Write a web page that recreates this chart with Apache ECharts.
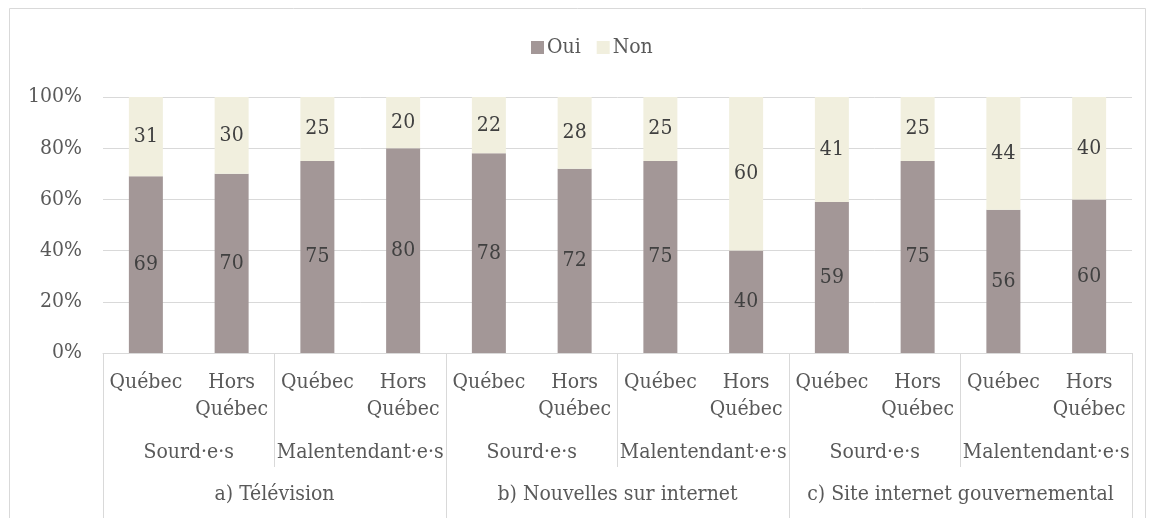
<!DOCTYPE html>
<html>
<head>
<meta charset="utf-8">
<script src="https://cdn.jsdelivr.net/npm/echarts@6/dist/echarts.min.js"></script>
<style>
  html, body { margin: 0; padding: 0; background: #ffffff; }
  #chart { width: 1154px; height: 518px; }
</style>
</head>
<body>
<div id="chart"></div>
<script>
// Region of residence, one bar each
const regions = ['Québec', 'Hors Québec', 'Québec', 'Hors Québec', 'Québec', 'Hors Québec',
                 'Québec', 'Hors Québec', 'Québec', 'Hors Québec', 'Québec', 'Hors Québec'];
// Hearing status groups (two bars each)
const groups = ['Sourd·e·s', 'Malentendant·e·s', 'Sourd·e·s', 'Malentendant·e·s', 'Sourd·e·s', 'Malentendant·e·s'];
// Information source (four bars each)
const sources = ['a) Télévision', 'b) Nouvelles sur internet', 'c) Site internet gouvernemental'];
// Shares in percent
const oui = [69, 70, 75, 80, 78, 72, 75, 40, 59, 75, 56, 60];
const non = [31, 30, 25, 20, 22, 28, 25, 60, 41, 25, 44, 40];
const yTicks = { min: 0, max: 100, interval: 20 };

const FONT = '"DejaVu Serif Condensed", "DejaVu Serif", serif';
const FS = 21;
const LINE = '#d9d9d9';
const TXT = '#595959';

const chart = echarts.init(document.getElementById('chart'), null, { renderer: 'canvas' });

const tableAxis = (data, margin, tickLen) => ({
  type: 'category',
  data: data,
  position: 'bottom',
  gridIndex: 0,
  axisLine: { show: false },
  axisTick: { show: true, length: tickLen, interval: 0, lineStyle: { color: LINE, width: 1 } },
  axisLabel: {
    interval: 0, margin: margin, color: TXT,
    fontFamily: FONT, fontSize: FS, lineHeight: 27
  },
  splitLine: { show: false }
});

chart.setOption({
  animation: false,
  backgroundColor: '#ffffff',
  color: ['#a39797', '#f1efde'],
  textStyle: { fontFamily: FONT },
  graphic: [{
    type: 'rect',
    shape: { x: 9.5, y: 8.5, width: 1136, height: 600 },
    style: { fill: 'none', stroke: LINE, lineWidth: 1 },
    silent: true, z: -1
  }],
  legend: {
    data: ['Oui', 'Non'],
    top: 32,
    left: 526,
    icon: 'rect',
    itemWidth: 13,
    itemHeight: 13,
    itemGap: 16,
    textStyle: { fontFamily: FONT, fontSize: FS, color: TXT, padding: [0, 0, 0, -2] }
  },
  grid: { left: 103, right: 22, top: 97, bottom: 165, containLabel: false },
  xAxis: [
    {
      type: 'category',
      data: regions,
      position: 'bottom',
      axisLine: { show: true, lineStyle: { color: LINE, width: 1 } },
      axisTick: { show: false },
      axisLabel: {
        interval: 0, margin: 16, color: TXT,
        fontFamily: FONT, fontSize: FS, lineHeight: 27,
        formatter: v => v.replace(' ', '\n')
      }
    },
    tableAxis(groups, 86, 114),
    tableAxis(sources, 128, 220)
  ],
  yAxis: {
    type: 'value',
    min: yTicks.min, max: yTicks.max, interval: yTicks.interval,
    axisLine: { show: false },
    axisTick: { show: false },
    splitLine: { lineStyle: { color: LINE, width: 1 } },
    axisLabel: {
      margin: 21, color: TXT, fontFamily: FONT, fontSize: FS,
      formatter: '{value}%'
    }
  },
  series: [
    {
      name: 'Oui', type: 'bar', stack: 'total', data: oui, barWidth: 34,
      label: { show: true, position: 'inside', color: '#404040', fontFamily: FONT, fontSize: FS }
    },
    {
      name: 'Non', type: 'bar', stack: 'total', data: non, barWidth: 34,
      label: { show: true, position: 'inside', color: '#404040', fontFamily: FONT, fontSize: FS }
    }
  ]
});
</script>
</body>
</html>
